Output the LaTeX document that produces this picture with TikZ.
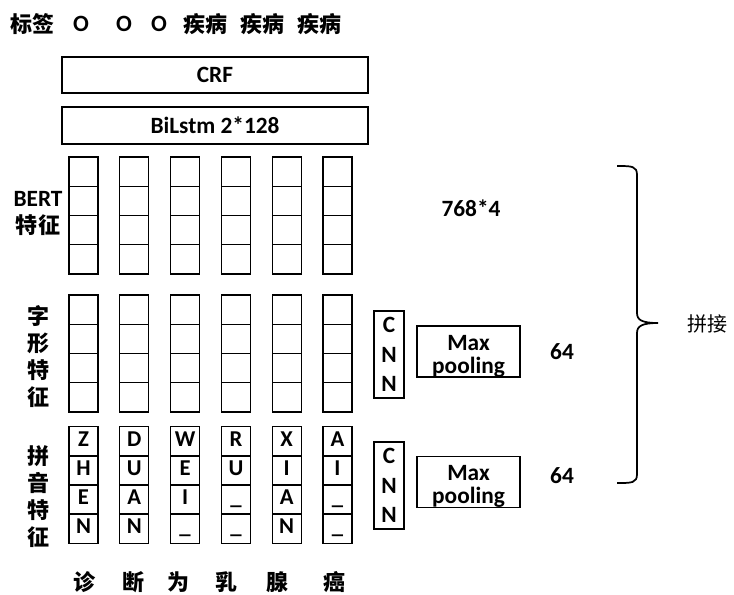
\documentclass[tikz,border=0pt]{standalone}
\usepackage{fontspec}
\setmainfont{Carlito}
\newfontfamily\cjk{Noto Sans CJK SC}
\begin{document}
\begin{tikzpicture}[x=0.75pt,y=-0.75pt,
  txt/.style={font=\fontsize{17.5}{20}\selectfont\bfseries, inner sep=0pt},
  cjkb/.style={font=\fontsize{16.5}{20}\selectfont\cjk\bfseries, inner sep=0pt},
  cell/.style={draw, line width=0.8pt, minimum width=21.75pt, minimum height=21.94pt, inner sep=0pt,
    text height=11pt, text depth=3pt, font=\fontsize{17}{19}\selectfont\bfseries},
  bigbox/.style={draw, line width=1.6pt, minimum width=229.5pt, inner sep=0pt,
    font=\fontsize{17.5}{20}\selectfont\bfseries},
  cnnbox/.style={draw, line width=1.3pt, minimum width=22.5pt, minimum height=65.25pt, inner sep=0pt,
    align=center, font=\fontsize{17.5}{22}\selectfont\bfseries},
  poolbox/.style={draw, line width=1.3pt, minimum width=77.25pt, minimum height=38.25pt, inner sep=0pt},
  pooltxt/.style={align=center, inner sep=0pt, font=\fontsize{17.5}{17.25}\selectfont\bfseries}
]
\useasboundingbox (0,0) rectangle (734,594);

% title row
\node[cjkb] (t0) at (32,24) {标签};
\node[txt] (t1) at (81,24) {O};
\node[txt] (t2) at (124,24) {O};
\node[txt] (t3) at (159,24) {O};
\node[cjkb] (t4) at (205,24) {疾病};
\node[cjkb] (t5) at (262,24) {疾病};
\node[cjkb] (t6) at (319,24) {疾病};

% CRF and BiLstm
\node[bigbox, minimum height=27pt] (crf) at (215,75) {CRF};
\node[bigbox, minimum height=27.75pt] (lstm) at (215,125.5) {BiLstm 2*128};

% BERT and glyph feature cells
\foreach \i in {0,...,5}{
  \foreach \j in {0,...,3}{
    \node[cell] (b-\i-\j) at ({83.5+50.8*\i},{157+14.625+29.25*\j}) {};
    \node[cell] (g-\i-\j) at ({83.5+50.8*\i},{295+14.625+29.25*\j}) {};
  }
}

% pinyin cells
\foreach \i/\word in {0/{Z,H,E,N},1/{D,U,A,N},2/{W,E,I,\_},3/{R,U,\_,\_},4/{X,I,A,N},5/{A,I,\_,\_}}{
  \foreach \l [count=\j from 0] in \word {
    \node[cell] (p-\i-\j) at ({83.5+50.8*\i},{427+14.5+29*\j}) {\l};
  }
}

% left labels
\node[align=center, inner sep=0pt, font=\fontsize{17.5}{20.25}\selectfont] (lbert) at (38,213.5)
  {\bfseries BERT\\{\fontsize{16.5}{20}\selectfont\cjk\bfseries 特征}};
\node[align=center, inner sep=0pt, font=\fontsize{16.5}{20.25}\selectfont\cjk\bfseries] (lglyph) at (38,356.5)
  {字\\形\\特\\征};
\node[align=center, inner sep=0pt, font=\fontsize{16.5}{20.25}\selectfont\cjk\bfseries] (lpy) at (38,496.5)
  {拼\\音\\特\\征};

% bottom characters
\node[cjkb] (w0) at (84,582) {诊};
\node[cjkb] (w1) at (133,582) {断};
\node[cjkb] (w2) at (178,582) {为};
\node[cjkb] (w3) at (226,582) {乳};
\node[cjkb] (w4) at (277,582) {腺};
\node[cjkb] (w5) at (334,582) {癌};

% CNN and max pooling
\node[cnnbox] (cnn1) at (389,354.5) {C\\N\\N};
\node[poolbox] (pool1) at (468.5,351.5) {};
\node[pooltxt] (pt1) at (468.5,356) {Max\\pooling};
\node[cnnbox] (cnn2) at (389,485.5) {C\\N\\N};
\node[poolbox] (pool2) at (468.5,482) {};
\node[pooltxt] (pt2) at (468.5,486.5) {Max\\pooling};

% dimensions
\node[txt] (d1) at (471,208) {768*4};
\node[txt] (d2) at (562,352) {64};
\node[txt] (d3) at (562,476) {64};

% brace
\draw[line width=1.3pt] (617,166) .. controls (632,166) and (637,166) .. (637,175)
  -- (637,313) .. controls (637,320) and (642,323) .. (658,323)
  .. controls (642,323) and (637,326) .. (637,333)
  -- (637,474) .. controls (637,483) and (632,483) .. (617,483);
\node[inner sep=0pt, font=\fontsize{15}{18}\selectfont\cjk] (concat) at (707,324) {拼接};
\end{tikzpicture}
\end{document}
